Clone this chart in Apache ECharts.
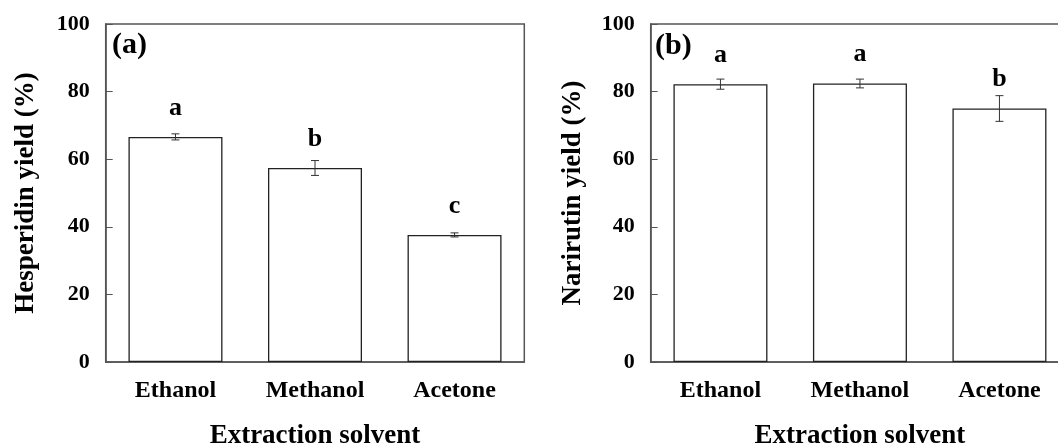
<!DOCTYPE html>
<html>
<head>
<meta charset="utf-8">
<script src="https://cdn.jsdelivr.net/npm/echarts@6/dist/echarts.min.js"></script>
<style>
html, body { margin: 0; padding: 0; background: #fff; }
#main { width: 1058px; height: 444px; }
</style>
</head>
<body>
<div id="main"></div>
<script>
// data
var solvents = ['Ethanol', 'Methanol', 'Acetone'];
var hesperidin = [66.6, 57.4, 37.6];
var hesperidinErr = [0.9, 2.2, 0.6];
var hesperidinLetters = ['a', 'b', 'c'];
var narirutin = [82.2, 82.4, 75.0];
var narirutinErr = [1.5, 1.3, 3.8];
var narirutinLetters = ['a', 'a', 'b'];
var yTicks = [0, 20, 40, 60, 80, 100];

var font = 'Liberation Serif, Times New Roman, serif';
var axisColor = '#555';

function errData(vals, errs) {
    return vals.map(function (v, i) { return [i, v - errs[i], v + errs[i]]; });
}

function errRender(params, api) {
    var x = api.value(0);
    var lo = api.coord([x, api.value(1)]);
    var hi = api.coord([x, api.value(2)]);
    var w = 4;
    var st = { stroke: '#333', lineWidth: 1 };
    return {
        type: 'group',
        children: [
            { type: 'line', shape: { x1: lo[0], y1: lo[1], x2: hi[0], y2: hi[1] }, style: st },
            { type: 'line', shape: { x1: lo[0] - w, y1: lo[1], x2: lo[0] + w, y2: lo[1] }, style: st },
            { type: 'line', shape: { x1: hi[0] - w, y1: hi[1], x2: hi[0] + w, y2: hi[1] }, style: st }
        ]
    };
}

function xAxisCfg(idx) {
    return {
        type: 'category',
        gridIndex: idx,
        data: solvents,
        name: 'Extraction solvent',
        nameLocation: 'middle',
        nameGap: 61,
        nameTextStyle: { fontFamily: font, fontWeight: 'bold', fontSize: 27, color: '#000' },
        axisLine: { lineStyle: { color: axisColor, width: 1.5 } },
        axisTick: { show: false },
        axisLabel: { fontFamily: font, fontWeight: 'bold', fontSize: 24, color: '#000', margin: 17 }
    };
}

function yAxisCfg(idx, name, gap) {
    return {
        type: 'value',
        gridIndex: idx,
        min: yTicks[0],
        max: yTicks[yTicks.length - 1],
        interval: 20,
        name: name,
        nameLocation: 'middle',
        nameGap: gap,
        nameTextStyle: { fontFamily: font, fontWeight: 'bold', fontSize: 27, color: '#000' },
        axisLine: { show: true, lineStyle: { color: axisColor, width: 1.5 } },
        axisTick: { show: true, inside: true, length: 7, lineStyle: { color: axisColor } },
        axisLabel: { fontFamily: font, fontWeight: 'bold', fontSize: 22, color: '#000', margin: 16 },
        splitLine: { show: false }
    };
}

function barSeries(idx, vals, letters) {
    return {
        type: 'bar',
        xAxisIndex: idx,
        yAxisIndex: idx,
        data: vals,
        barWidth: 94,
        itemStyle: { color: '#fff', borderColor: '#222', borderWidth: 1.3 },
        label: {
            show: true,
            position: 'top',
            distance: 16,
            formatter: function (p) { return letters[p.dataIndex]; },
            fontFamily: font, fontWeight: 'bold', fontSize: 26, color: '#000'
        }
    };
}

function errSeries(idx, vals, errs) {
    return {
        type: 'custom',
        xAxisIndex: idx,
        yAxisIndex: idx,
        data: errData(vals, errs),
        renderItem: errRender,
        z: 5
    };
}

var myChart = echarts.init(document.getElementById('main'));
var option = {
    animation: false,
    grid: [
        { left: 105.7, top: 24, width: 418.6, height: 338, outerBoundsMode: 'none', show: true, borderColor: axisColor, borderWidth: 1.5 },
        { left: 650.7, top: 24, width: 418.5, height: 338, outerBoundsMode: 'none', show: true, borderColor: axisColor, borderWidth: 1.5 }
    ],
    xAxis: [xAxisCfg(0), xAxisCfg(1)],
    yAxis: [yAxisCfg(0, 'Hesperidin yield (%)', 66), yAxisCfg(1, 'Narirutin yield (%)', 64)],
    graphic: [
        { type: 'text', left: 112, top: 30, style: { text: '(a)', fontFamily: font, fontWeight: 'bold', fontSize: 30, fill: '#000' } },
        { type: 'text', left: 655, top: 31, style: { text: '(b)', fontFamily: font, fontWeight: 'bold', fontSize: 30, fill: '#000' } }
    ],
    series: [
        barSeries(0, hesperidin, hesperidinLetters),
        errSeries(0, hesperidin, hesperidinErr),
        barSeries(1, narirutin, narirutinLetters),
        errSeries(1, narirutin, narirutinErr)
    ]
};
myChart.setOption(option, true);
window.onresize = myChart.resize;
</script>
</body>
</html>
